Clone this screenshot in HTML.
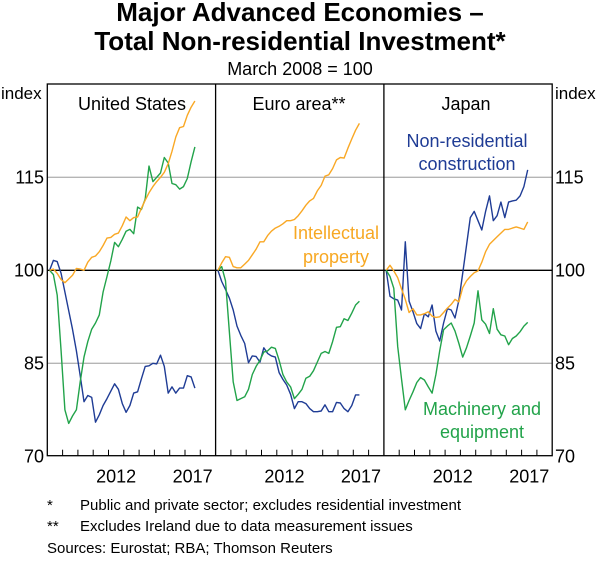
<!DOCTYPE html>
<html><head><meta charset="utf-8"><style>
body{margin:0;background:#fff;}
svg text{font-family:"Liberation Sans",Arial,sans-serif;}
</style></head><body>
<svg width="600" height="557" viewBox="0 0 600 557" xmlns="http://www.w3.org/2000/svg">
<text x="300" y="21" text-anchor="middle" font-size="26" font-weight="bold">Major Advanced Economies –</text>
<text x="300" y="50" text-anchor="middle" font-size="26" font-weight="bold">Total Non-residential Investment*</text>
<text x="300" y="75" text-anchor="middle" font-size="18">March 2008 = 100</text>
<g id="grid"></g>
<g id="series"></g>
<g id="axes"></g>
<text x="1" y="99" font-size="17">index</text>
<text x="555" y="99" font-size="17">index</text>
<text x="132" y="110" text-anchor="middle" font-size="18">United States</text>
<text x="299" y="110" text-anchor="middle" font-size="18">Euro area**</text>
<text x="466" y="110" text-anchor="middle" font-size="18">Japan</text>
<text x="467" y="147" text-anchor="middle" font-size="18" fill="#1f3c95">Non-residential</text>
<text x="467" y="170" text-anchor="middle" font-size="18" fill="#1f3c95">construction</text>
<text x="336" y="239" text-anchor="middle" font-size="18" fill="#f7a823">Intellectual</text>
<text x="336" y="263" text-anchor="middle" font-size="18" fill="#f7a823">property</text>
<text x="482" y="415" text-anchor="middle" font-size="18" fill="#22a34a">Machinery and</text>
<text x="482" y="438" text-anchor="middle" font-size="18" fill="#22a34a">equipment</text>
<text x="47" y="510" font-size="15">*</text>
<text x="80" y="510" font-size="15">Public and private sector; excludes residential investment</text>
<text x="47" y="531" font-size="15">**</text>
<text x="80" y="531" font-size="15">Excludes Ireland due to data measurement issues</text>
<text x="47" y="553" font-size="15">Sources: Eurostat; RBA; Thomson Reuters</text>
</svg>
<script>
const yTicks=[70,85,100,115];
const xLabels=[2012,2017];
const usConstruction=[100,101.6,101.4,99.5,96.5,93.5,90.5,87,83,78.8,79.8,79.5,75.5,76.7,78.2,79.3,80.5,81.7,80.8,78.5,77.1,78.2,80.2,80.4,82.5,84.5,84.6,85,84.9,86.3,84.5,80.2,81.2,80.2,81,81,83,82.8,81];
const usMachinery=[100,99.3,96,87,77.5,75.3,76.5,77.5,82,86,88.5,90.5,91.5,92.8,96.5,99,101.5,104.5,103.8,105,106.3,106.6,105.9,110.2,109.8,111.5,116.8,114.3,115,115.7,118.2,117.3,114,113.8,113.1,113.5,114.8,117.5,119.9];
const usIP=[100,100.2,99.5,98.5,98,98.6,99.2,100.3,100.2,100,101.3,102.1,102.3,103,104,105.2,105.3,105.8,106,107.2,108.6,108,108.5,108.6,110,111.3,112.5,113.5,114.3,115,115.8,117.2,119.2,121.5,123,123.2,125,126.3,127.3];
const euConstruction=[100,98.2,96.9,95.5,93.6,91,89.5,88.2,85.1,86.2,86.1,85.2,87.5,86.6,86.2,86,83.5,82.4,81.5,80,77.7,78.8,78.8,78.5,77.7,77.2,77.2,77.3,78.3,77.2,77.2,78.7,78.6,77.7,77.2,78.2,79.9,79.9];
const euMachinery=[100,100.6,98.3,90,82,79,79.3,79.6,80.8,83.2,84.5,85.5,86.8,87,87.6,87.4,85.5,83.2,82,81.2,79.3,80,80.8,82.6,82.9,83.8,85.2,86.6,86.9,86.6,88.5,90.8,90.9,92.2,91.9,93.1,94.4,95];
const euIP=[100,101.2,102.2,102.1,100.6,100.4,100.4,101,101.6,102.5,103.4,104.6,104.6,105.6,106.3,106.8,107.1,107.5,108,108,108.2,108.8,109.6,110.5,111.2,111.6,112.8,113.7,115.2,115.4,116.4,117.8,118.2,118.1,119.7,121.2,122.6,123.7];
const jpConstruction=[100,95.8,95.4,95.2,93.6,104.6,95,93.3,91.4,90.6,93,92.5,94.4,90.2,88.6,91.5,93.8,93.6,92.3,95.2,99.5,104,108.5,109.5,108,106.5,109.5,112,108,108.8,111,108.5,111,111.2,111.3,112,113.5,116.2];
const jpMachinery=[100,99,97.1,87.7,82.5,77.5,79,80.4,81.9,82.7,82.3,81.2,80.2,83.2,87,90.4,91,91.5,90.2,88.2,86,87.5,89.4,91.5,96.7,92,91.3,89.8,93.8,90.5,89.6,89.4,88,89,89.4,90.1,91,91.6];
const jpIP=[100,100.8,99.9,98.8,97,95.3,93.2,93.8,92.8,92.8,93,93.3,92.6,92.4,92.5,93.2,93.9,94.5,95.3,94.9,97.2,98.3,99,99.6,99.9,101.3,103,104.2,104.8,105.4,106,106.6,106.6,106.8,107,106.8,106.6,107.8];

const NS='http://www.w3.org/2000/svg';
const panelLeft=[47.3,215.6,383.9];
const yearW=15.3, topY=84, bottomY=455.7;
function y(v){return 270.3-(v-100)*6.2;}
function x(p,t){return panelLeft[p]+(t-2008)*yearW;}
function qt(i){return 2008.15+i*0.25;}
function mk(tag,attrs,parent){const e=document.createElementNS(NS,tag);for(const k in attrs)e.setAttribute(k,attrs[k]);parent.appendChild(e);return e;}
const gridG=document.getElementById('grid'), serG=document.getElementById('series'), axesG=document.getElementById('axes');
const LX=panelLeft[0], RX=panelLeft[2]+11*yearW;
yTicks.forEach(v=>{
  if(v!==70){
    const g=mk('line',{x1:LX,x2:RX,y1:y(v),y2:y(v),stroke:v===100?'#000':'#b5b5b5','stroke-width':1.3},gridG);
    
    
  }
  const t1=mk('text',{x:44,y:y(v)+6,'text-anchor':'end','font-size':18},axesG);t1.textContent=v;
  
  
  const t2=mk('text',{x:555,y:y(v)+6,'font-size':18},axesG);t2.textContent=v;
  
  
});
const fr=mk('rect',{x:LX,y:topY,width:RX-LX,height:bottomY-topY,fill:'none',stroke:'#000','stroke-width':1.3},axesG);


[1,2].forEach(p=>{const d=mk('line',{x1:panelLeft[p],x2:panelLeft[p],y1:topY,y2:bottomY,stroke:'#000','stroke-width':1.3},axesG);
  
  });
[0,1,2].forEach(p=>{
  for(let k=1;k<=10;k++){const tk=mk('line',{x1:x(p,2008+k),x2:x(p,2008+k),y1:bottomY,y2:bottomY-6,stroke:'#000','stroke-width':1},axesG);
    
    }
  xLabels.forEach(yr=>{const t=mk('text',{x:x(p,yr+0.5),y:bottomY+27,'text-anchor':'middle','font-size':18},axesG);t.textContent=yr;
    
    });
});
const seriesList=[[0,usConstruction,'#1f3c95','us-construction'],[0,usMachinery,'#22a34a','us-machinery'],[0,usIP,'#f9a825','us-ip'],
[1,euConstruction,'#1f3c95','euro-construction'],[1,euMachinery,'#22a34a','euro-machinery'],[1,euIP,'#f9a825','euro-ip'],
[2,jpConstruction,'#1f3c95','japan-construction'],[2,jpIP,'#f9a825','japan-ip'],[2,jpMachinery,'#22a34a','japan-machinery']];
seriesList.forEach(([p,d,c,n])=>{
  const pts=d.map((v,i)=>x(p,qt(i)).toFixed(1)+','+y(v).toFixed(1)).join(' ');
  const pl=mk('polyline',{points:pts,fill:'none',stroke:c,'stroke-width':1.4,'stroke-linejoin':'round'},serG);
  
  
});
</script>
</body></html>
